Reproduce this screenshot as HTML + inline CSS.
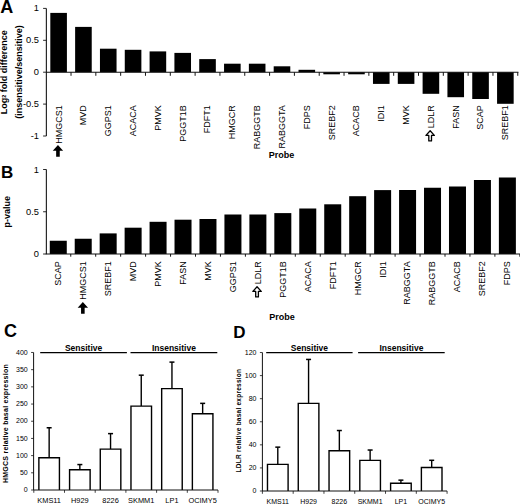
<!DOCTYPE html><html><head><meta charset="utf-8"><style>html,body{margin:0;padding:0;background:#fff;}svg{display:block;}text{font-family:"Liberation Sans", sans-serif;fill:#000;}</style></head><body>
<svg width="520" height="504" viewBox="0 0 520 504">
<text x="0.3" y="12.5" font-size="18" font-weight="bold">A</text>
<text x="1" y="178.4" font-size="17" font-weight="bold">B</text>
<text x="4.1" y="337.3" font-size="18" font-weight="bold">C</text>
<text x="233.2" y="337.6" font-size="17" font-weight="bold">D</text>
<rect x="50.31" y="12.9" width="16.6" height="59.3" fill="#000"/>
<rect x="75.13" y="26.9" width="16.6" height="45.3" fill="#000"/>
<rect x="99.95" y="48.7" width="16.6" height="23.5" fill="#000"/>
<rect x="124.77" y="49.8" width="16.6" height="22.4" fill="#000"/>
<rect x="149.59" y="51.4" width="16.6" height="20.8" fill="#000"/>
<rect x="174.41" y="52.9" width="16.6" height="19.3" fill="#000"/>
<rect x="199.23" y="59.1" width="16.6" height="13.1" fill="#000"/>
<rect x="224.05" y="63.7" width="16.6" height="8.5" fill="#000"/>
<rect x="248.87" y="63.7" width="16.6" height="8.5" fill="#000"/>
<rect x="273.69" y="66.3" width="16.6" height="5.9" fill="#000"/>
<rect x="298.51" y="69.8" width="16.6" height="2.4" fill="#000"/>
<rect x="323.33" y="72.2" width="16.6" height="2.1" fill="#000"/>
<rect x="348.15" y="72.2" width="16.6" height="2.1" fill="#000"/>
<rect x="372.97" y="72.2" width="16.6" height="11.7" fill="#000"/>
<rect x="397.79" y="72.2" width="16.6" height="11.7" fill="#000"/>
<rect x="422.61" y="72.2" width="16.6" height="21.6" fill="#000"/>
<rect x="447.43" y="72.2" width="16.6" height="25" fill="#000"/>
<rect x="472.25" y="72.2" width="16.6" height="26.8" fill="#000"/>
<rect x="497.07" y="72.2" width="16.6" height="31.6" fill="#000"/>
<line x1="46.4" y1="8.4" x2="46.4" y2="136" stroke="#2a2a2a" stroke-width="1.2"/>
<line x1="46.2" y1="72.2" x2="518.4" y2="72.2" stroke="#111" stroke-width="1.1"/>
<line x1="71.02" y1="72.2" x2="71.02" y2="75.8" stroke="#111" stroke-width="1"/>
<line x1="95.84" y1="72.2" x2="95.84" y2="75.8" stroke="#111" stroke-width="1"/>
<line x1="120.66" y1="72.2" x2="120.66" y2="75.8" stroke="#111" stroke-width="1"/>
<line x1="145.48" y1="72.2" x2="145.48" y2="75.8" stroke="#111" stroke-width="1"/>
<line x1="170.3" y1="72.2" x2="170.3" y2="75.8" stroke="#111" stroke-width="1"/>
<line x1="195.12" y1="72.2" x2="195.12" y2="75.8" stroke="#111" stroke-width="1"/>
<line x1="219.94" y1="72.2" x2="219.94" y2="75.8" stroke="#111" stroke-width="1"/>
<line x1="244.76" y1="72.2" x2="244.76" y2="75.8" stroke="#111" stroke-width="1"/>
<line x1="269.58" y1="72.2" x2="269.58" y2="75.8" stroke="#111" stroke-width="1"/>
<line x1="294.4" y1="72.2" x2="294.4" y2="75.8" stroke="#111" stroke-width="1"/>
<line x1="319.22" y1="72.2" x2="319.22" y2="75.8" stroke="#111" stroke-width="1"/>
<line x1="344.04" y1="72.2" x2="344.04" y2="75.8" stroke="#111" stroke-width="1"/>
<line x1="368.86" y1="72.2" x2="368.86" y2="75.8" stroke="#111" stroke-width="1"/>
<line x1="393.68" y1="72.2" x2="393.68" y2="75.8" stroke="#111" stroke-width="1"/>
<line x1="418.5" y1="72.2" x2="418.5" y2="75.8" stroke="#111" stroke-width="1"/>
<line x1="443.32" y1="72.2" x2="443.32" y2="75.8" stroke="#111" stroke-width="1"/>
<line x1="468.14" y1="72.2" x2="468.14" y2="75.8" stroke="#111" stroke-width="1"/>
<line x1="492.96" y1="72.2" x2="492.96" y2="75.8" stroke="#111" stroke-width="1"/>
<line x1="517.78" y1="72.2" x2="517.78" y2="75.8" stroke="#111" stroke-width="1"/>
<line x1="43.1" y1="8.4" x2="46.4" y2="8.4" stroke="#111" stroke-width="0.9"/>
<text x="39" y="11.4" text-anchor="end" font-size="9.3">1</text>
<line x1="43.1" y1="40.3" x2="46.4" y2="40.3" stroke="#111" stroke-width="0.9"/>
<text x="39" y="43.3" text-anchor="end" font-size="9.3">0.5</text>
<line x1="43.1" y1="72.2" x2="46.4" y2="72.2" stroke="#111" stroke-width="0.9"/>
<text x="39" y="75.2" text-anchor="end" font-size="9.3">0</text>
<line x1="43.1" y1="104.1" x2="46.4" y2="104.1" stroke="#111" stroke-width="0.9"/>
<text x="39" y="107.1" text-anchor="end" font-size="9.3">-0.5</text>
<line x1="43.1" y1="136" x2="46.4" y2="136" stroke="#111" stroke-width="0.9"/>
<text x="39" y="139" text-anchor="end" font-size="9.3">-1</text>
<text transform="translate(61.51,105.2) rotate(-90)" text-anchor="end" font-size="9">HMGCS1</text>
<text transform="translate(86.33,105.2) rotate(-90)" text-anchor="end" font-size="9">MVD</text>
<text transform="translate(111.15,105.2) rotate(-90)" text-anchor="end" font-size="9">GGPS1</text>
<text transform="translate(135.97,105.2) rotate(-90)" text-anchor="end" font-size="9">ACACA</text>
<text transform="translate(160.79,105.2) rotate(-90)" text-anchor="end" font-size="9">PMVK</text>
<text transform="translate(185.61,105.2) rotate(-90)" text-anchor="end" font-size="9">PGGT1B</text>
<text transform="translate(210.43,105.2) rotate(-90)" text-anchor="end" font-size="9">FDFT1</text>
<text transform="translate(235.25,105.2) rotate(-90)" text-anchor="end" font-size="9">HMGCR</text>
<text transform="translate(260.07,105.2) rotate(-90)" text-anchor="end" font-size="9">RABGGTB</text>
<text transform="translate(284.89,105.2) rotate(-90)" text-anchor="end" font-size="9">RABGGTA</text>
<text transform="translate(309.71,105.2) rotate(-90)" text-anchor="end" font-size="9">FDPS</text>
<text transform="translate(334.53,105.2) rotate(-90)" text-anchor="end" font-size="9">SREBF2</text>
<text transform="translate(359.35,105.2) rotate(-90)" text-anchor="end" font-size="9">ACACB</text>
<text transform="translate(384.17,105.2) rotate(-90)" text-anchor="end" font-size="9">IDI1</text>
<text transform="translate(408.99,105.2) rotate(-90)" text-anchor="end" font-size="9">MVK</text>
<text transform="translate(433.81,105.2) rotate(-90)" text-anchor="end" font-size="9">LDLR</text>
<text transform="translate(458.63,105.2) rotate(-90)" text-anchor="end" font-size="9">FASN</text>
<text transform="translate(483.45,105.2) rotate(-90)" text-anchor="end" font-size="9">SCAP</text>
<text transform="translate(508.27,105.2) rotate(-90)" text-anchor="end" font-size="9">SREBF1</text>
<text x="281.5" y="158" text-anchor="middle" font-size="9" font-weight="bold">Probe</text>
<text transform="translate(7.1,72.3) rotate(-90)" text-anchor="middle" font-size="9" font-weight="bold">Log<tspan font-size="5.5" dy="-1.5">2</tspan><tspan dy="1.5"> fold difference</tspan></text>
<text transform="translate(21.8,72) rotate(-90)" text-anchor="middle" font-size="9" font-weight="bold">(insensitive/sensitive)</text>
<polygon points="57.95,145.1 63.15,150.7 59.75,150.7 59.75,156.8 56.15,156.8 56.15,150.7 52.75,150.7" fill="#000"/>
<polygon points="430.15,130.8 434.35,135.4 431.5,135.4 431.5,140.9 428.8,140.9 428.8,135.4 425.95,135.4" fill="#fff" stroke="#000" stroke-width="1.3" stroke-linejoin="round"/>
<rect x="49.77" y="240.75" width="17" height="13.25" fill="#000"/>
<rect x="74.72" y="238.75" width="17" height="15.25" fill="#000"/>
<rect x="99.67" y="233.4" width="17" height="20.6" fill="#000"/>
<rect x="124.62" y="227.7" width="17" height="26.3" fill="#000"/>
<rect x="149.57" y="221.8" width="17" height="32.2" fill="#000"/>
<rect x="174.52" y="219.7" width="17" height="34.3" fill="#000"/>
<rect x="199.47" y="219" width="17" height="35" fill="#000"/>
<rect x="224.43" y="214.5" width="17" height="39.5" fill="#000"/>
<rect x="249.38" y="214.5" width="17" height="39.5" fill="#000"/>
<rect x="274.32" y="213.1" width="17" height="40.9" fill="#000"/>
<rect x="299.27" y="208.5" width="17" height="45.5" fill="#000"/>
<rect x="324.23" y="204.3" width="17" height="49.7" fill="#000"/>
<rect x="349.18" y="196.2" width="17" height="57.8" fill="#000"/>
<rect x="374.12" y="190.1" width="17" height="63.9" fill="#000"/>
<rect x="399.07" y="190" width="17" height="64" fill="#000"/>
<rect x="424.02" y="187.75" width="17" height="66.25" fill="#000"/>
<rect x="448.98" y="186.5" width="17" height="67.5" fill="#000"/>
<rect x="473.93" y="180" width="17" height="74" fill="#000"/>
<rect x="498.88" y="177.5" width="17" height="76.5" fill="#000"/>
<line x1="46.4" y1="169.5" x2="46.4" y2="254" stroke="#2a2a2a" stroke-width="1.2"/>
<line x1="45.8" y1="254" x2="520" y2="254" stroke="#111" stroke-width="1.1"/>
<line x1="70.75" y1="254" x2="70.75" y2="256.7" stroke="#111" stroke-width="1"/>
<line x1="95.7" y1="254" x2="95.7" y2="256.7" stroke="#111" stroke-width="1"/>
<line x1="120.65" y1="254" x2="120.65" y2="256.7" stroke="#111" stroke-width="1"/>
<line x1="145.6" y1="254" x2="145.6" y2="256.7" stroke="#111" stroke-width="1"/>
<line x1="170.55" y1="254" x2="170.55" y2="256.7" stroke="#111" stroke-width="1"/>
<line x1="195.5" y1="254" x2="195.5" y2="256.7" stroke="#111" stroke-width="1"/>
<line x1="220.45" y1="254" x2="220.45" y2="256.7" stroke="#111" stroke-width="1"/>
<line x1="245.4" y1="254" x2="245.4" y2="256.7" stroke="#111" stroke-width="1"/>
<line x1="270.35" y1="254" x2="270.35" y2="256.7" stroke="#111" stroke-width="1"/>
<line x1="295.3" y1="254" x2="295.3" y2="256.7" stroke="#111" stroke-width="1"/>
<line x1="320.25" y1="254" x2="320.25" y2="256.7" stroke="#111" stroke-width="1"/>
<line x1="345.2" y1="254" x2="345.2" y2="256.7" stroke="#111" stroke-width="1"/>
<line x1="370.15" y1="254" x2="370.15" y2="256.7" stroke="#111" stroke-width="1"/>
<line x1="395.1" y1="254" x2="395.1" y2="256.7" stroke="#111" stroke-width="1"/>
<line x1="420.05" y1="254" x2="420.05" y2="256.7" stroke="#111" stroke-width="1"/>
<line x1="445" y1="254" x2="445" y2="256.7" stroke="#111" stroke-width="1"/>
<line x1="469.95" y1="254" x2="469.95" y2="256.7" stroke="#111" stroke-width="1"/>
<line x1="494.9" y1="254" x2="494.9" y2="256.7" stroke="#111" stroke-width="1"/>
<line x1="519.85" y1="254" x2="519.85" y2="256.7" stroke="#111" stroke-width="1"/>
<line x1="43.1" y1="169.5" x2="46.4" y2="169.5" stroke="#111" stroke-width="0.9"/>
<text x="39" y="172.5" text-anchor="end" font-size="9.3">1</text>
<line x1="43.1" y1="211.75" x2="46.4" y2="211.75" stroke="#111" stroke-width="0.9"/>
<text x="39" y="214.75" text-anchor="end" font-size="9.3">0.5</text>
<line x1="43.1" y1="254" x2="46.4" y2="254" stroke="#111" stroke-width="0.9"/>
<text x="39" y="257" text-anchor="end" font-size="9.3">0</text>
<text transform="translate(61.17,261.3) rotate(-90)" text-anchor="end" font-size="9">SCAP</text>
<text transform="translate(86.12,261.3) rotate(-90)" text-anchor="end" font-size="9">HMGCS1</text>
<text transform="translate(111.08,261.3) rotate(-90)" text-anchor="end" font-size="9">SREBF1</text>
<text transform="translate(136.03,261.3) rotate(-90)" text-anchor="end" font-size="9">MVD</text>
<text transform="translate(160.97,261.3) rotate(-90)" text-anchor="end" font-size="9">PMVK</text>
<text transform="translate(185.92,261.3) rotate(-90)" text-anchor="end" font-size="9">FASN</text>
<text transform="translate(210.87,261.3) rotate(-90)" text-anchor="end" font-size="9">MVK</text>
<text transform="translate(235.83,261.3) rotate(-90)" text-anchor="end" font-size="9">GGPS1</text>
<text transform="translate(260.77,261.3) rotate(-90)" text-anchor="end" font-size="9">LDLR</text>
<text transform="translate(285.72,261.3) rotate(-90)" text-anchor="end" font-size="9">PGGT1B</text>
<text transform="translate(310.67,261.3) rotate(-90)" text-anchor="end" font-size="9">ACACA</text>
<text transform="translate(335.62,261.3) rotate(-90)" text-anchor="end" font-size="9">FDFT1</text>
<text transform="translate(360.57,261.3) rotate(-90)" text-anchor="end" font-size="9">HMGCR</text>
<text transform="translate(385.52,261.3) rotate(-90)" text-anchor="end" font-size="9">IDI1</text>
<text transform="translate(410.47,261.3) rotate(-90)" text-anchor="end" font-size="9">RABGGTA</text>
<text transform="translate(435.42,261.3) rotate(-90)" text-anchor="end" font-size="9">RABGGTB</text>
<text transform="translate(460.38,261.3) rotate(-90)" text-anchor="end" font-size="9">ACACB</text>
<text transform="translate(485.32,261.3) rotate(-90)" text-anchor="end" font-size="9">SREBF2</text>
<text transform="translate(510.27,261.3) rotate(-90)" text-anchor="end" font-size="9">FDPS</text>
<text x="282" y="320.2" text-anchor="middle" font-size="9" font-weight="bold">Probe</text>
<text transform="translate(9.8,211.7) rotate(-90)" text-anchor="middle" font-size="9" font-weight="bold">p-value</text>
<polygon points="82.85,302.1 88.05,307.7 84.65,307.7 84.65,313.8 81.05,313.8 81.05,307.7 77.65,307.7" fill="#000"/>
<polygon points="257.05,286.8 261.25,291.4 258.4,291.4 258.4,296.9 255.7,296.9 255.7,291.4 252.85,291.4" fill="#fff" stroke="#000" stroke-width="1.3" stroke-linejoin="round"/>
<line x1="49.15" y1="457.68" x2="49.15" y2="427.77" stroke="#000" stroke-width="1.4"/>
<line x1="46.65" y1="427.77" x2="51.65" y2="427.77" stroke="#000" stroke-width="1.5"/>
<path d="M38.87 490V457.68H59.43V490" fill="#fff" stroke="#000" stroke-width="1.4"/>
<line x1="79.85" y1="469.72" x2="79.85" y2="464.56" stroke="#000" stroke-width="1.4"/>
<line x1="77.35" y1="464.56" x2="82.35" y2="464.56" stroke="#000" stroke-width="1.5"/>
<path d="M69.57 490V469.72H90.13V490" fill="#fff" stroke="#000" stroke-width="1.4"/>
<line x1="110.55" y1="449.09" x2="110.55" y2="433.62" stroke="#000" stroke-width="1.4"/>
<line x1="108.05" y1="433.62" x2="113.05" y2="433.62" stroke="#000" stroke-width="1.5"/>
<path d="M100.27 490V449.09H120.83V490" fill="#fff" stroke="#000" stroke-width="1.4"/>
<line x1="141.25" y1="406.11" x2="141.25" y2="375.17" stroke="#000" stroke-width="1.4"/>
<line x1="138.75" y1="375.17" x2="143.75" y2="375.17" stroke="#000" stroke-width="1.5"/>
<path d="M130.97 490V406.11H151.53V490" fill="#fff" stroke="#000" stroke-width="1.4"/>
<line x1="171.95" y1="388.58" x2="171.95" y2="362.11" stroke="#000" stroke-width="1.4"/>
<line x1="169.45" y1="362.11" x2="174.45" y2="362.11" stroke="#000" stroke-width="1.5"/>
<path d="M161.67 490V388.58H182.23V490" fill="#fff" stroke="#000" stroke-width="1.4"/>
<line x1="202.65" y1="413.68" x2="202.65" y2="403.36" stroke="#000" stroke-width="1.4"/>
<line x1="200.15" y1="403.36" x2="205.15" y2="403.36" stroke="#000" stroke-width="1.5"/>
<path d="M192.37 490V413.68H212.93V490" fill="#fff" stroke="#000" stroke-width="1.4"/>
<line x1="33.6" y1="352.5" x2="33.6" y2="490" stroke="#111" stroke-width="1"/>
<line x1="33.6" y1="490" x2="218" y2="490" stroke="#111" stroke-width="1"/>
<line x1="33.8" y1="490" x2="33.8" y2="492.8" stroke="#111" stroke-width="0.8"/>
<line x1="64.5" y1="490" x2="64.5" y2="492.8" stroke="#111" stroke-width="0.8"/>
<line x1="95.2" y1="490" x2="95.2" y2="492.8" stroke="#111" stroke-width="0.8"/>
<line x1="125.9" y1="490" x2="125.9" y2="492.8" stroke="#111" stroke-width="0.8"/>
<line x1="156.6" y1="490" x2="156.6" y2="492.8" stroke="#111" stroke-width="0.8"/>
<line x1="187.3" y1="490" x2="187.3" y2="492.8" stroke="#111" stroke-width="0.8"/>
<line x1="218" y1="490" x2="218" y2="492.8" stroke="#111" stroke-width="0.8"/>
<line x1="31.1" y1="490" x2="33.6" y2="490" stroke="#111" stroke-width="0.8"/>
<text x="27.7" y="492.2" text-anchor="end" font-size="7">0</text>
<line x1="31.1" y1="472.81" x2="33.6" y2="472.81" stroke="#111" stroke-width="0.8"/>
<text x="27.7" y="475.01" text-anchor="end" font-size="7">50</text>
<line x1="31.1" y1="455.62" x2="33.6" y2="455.62" stroke="#111" stroke-width="0.8"/>
<text x="27.7" y="457.82" text-anchor="end" font-size="7">100</text>
<line x1="31.1" y1="438.43" x2="33.6" y2="438.43" stroke="#111" stroke-width="0.8"/>
<text x="27.7" y="440.63" text-anchor="end" font-size="7">150</text>
<line x1="31.1" y1="421.24" x2="33.6" y2="421.24" stroke="#111" stroke-width="0.8"/>
<text x="27.7" y="423.44" text-anchor="end" font-size="7">200</text>
<line x1="31.1" y1="404.05" x2="33.6" y2="404.05" stroke="#111" stroke-width="0.8"/>
<text x="27.7" y="406.25" text-anchor="end" font-size="7">250</text>
<line x1="31.1" y1="386.86" x2="33.6" y2="386.86" stroke="#111" stroke-width="0.8"/>
<text x="27.7" y="389.06" text-anchor="end" font-size="7">300</text>
<line x1="31.1" y1="369.67" x2="33.6" y2="369.67" stroke="#111" stroke-width="0.8"/>
<text x="27.7" y="371.87" text-anchor="end" font-size="7">350</text>
<line x1="31.1" y1="352.48" x2="33.6" y2="352.48" stroke="#111" stroke-width="0.8"/>
<text x="27.7" y="354.68" text-anchor="end" font-size="7">400</text>
<text x="49.15" y="502.7" text-anchor="middle" font-size="7.4">KMS11</text>
<text x="79.85" y="502.7" text-anchor="middle" font-size="7.4">H929</text>
<text x="110.55" y="502.7" text-anchor="middle" font-size="7.4">8226</text>
<text x="141.25" y="502.7" text-anchor="middle" font-size="7.4">SKMM1</text>
<text x="171.95" y="502.7" text-anchor="middle" font-size="7.4">LP1</text>
<text x="202.65" y="502.7" text-anchor="middle" font-size="7.4">OCIMY5</text>
<line x1="40.2" y1="352.6" x2="126.9" y2="352.6" stroke="#000" stroke-width="1.4"/>
<text x="83.55" y="350.5" text-anchor="middle" font-size="8.5" font-weight="bold">Sensitive</text>
<line x1="130.5" y1="352.6" x2="217.3" y2="352.6" stroke="#000" stroke-width="1.4"/>
<text x="173.9" y="350.5" text-anchor="middle" font-size="8.5" font-weight="bold">Insensitive</text>
<text transform="translate(8,423.5) rotate(-90)" text-anchor="middle" font-size="7.0" letter-spacing="0.25" font-weight="bold">HMGCS relative basal expression</text>
<line x1="277.79" y1="464.34" x2="277.79" y2="447.15" stroke="#000" stroke-width="1.4"/>
<line x1="275.29" y1="447.15" x2="280.29" y2="447.15" stroke="#000" stroke-width="1.5"/>
<path d="M267.48 491V464.34H288.1V491" fill="#fff" stroke="#000" stroke-width="1.4"/>
<line x1="308.57" y1="403.41" x2="308.57" y2="359.44" stroke="#000" stroke-width="1.4"/>
<line x1="306.07" y1="359.44" x2="311.07" y2="359.44" stroke="#000" stroke-width="1.5"/>
<path d="M298.26 491V403.41H318.88V491" fill="#fff" stroke="#000" stroke-width="1.4"/>
<line x1="339.35" y1="450.73" x2="339.35" y2="430.53" stroke="#000" stroke-width="1.4"/>
<line x1="336.85" y1="430.53" x2="341.85" y2="430.53" stroke="#000" stroke-width="1.5"/>
<path d="M329.04 491V450.73H349.66V491" fill="#fff" stroke="#000" stroke-width="1.4"/>
<line x1="370.13" y1="460.42" x2="370.13" y2="450.03" stroke="#000" stroke-width="1.4"/>
<line x1="367.63" y1="450.03" x2="372.63" y2="450.03" stroke="#000" stroke-width="1.5"/>
<path d="M359.82 491V460.42H380.44V491" fill="#fff" stroke="#000" stroke-width="1.4"/>
<line x1="400.91" y1="483.27" x2="400.91" y2="480.15" stroke="#000" stroke-width="1.4"/>
<line x1="398.41" y1="480.15" x2="403.41" y2="480.15" stroke="#000" stroke-width="1.5"/>
<path d="M390.6 491V483.27H411.22V491" fill="#fff" stroke="#000" stroke-width="1.4"/>
<line x1="431.69" y1="467.57" x2="431.69" y2="460.3" stroke="#000" stroke-width="1.4"/>
<line x1="429.19" y1="460.3" x2="434.19" y2="460.3" stroke="#000" stroke-width="1.5"/>
<path d="M421.38 491V467.57H442V491" fill="#fff" stroke="#000" stroke-width="1.4"/>
<line x1="262.4" y1="352.5" x2="262.4" y2="491" stroke="#111" stroke-width="1"/>
<line x1="262.4" y1="491" x2="447.08" y2="491" stroke="#111" stroke-width="1"/>
<line x1="262.4" y1="491" x2="262.4" y2="493.8" stroke="#111" stroke-width="0.8"/>
<line x1="293.18" y1="491" x2="293.18" y2="493.8" stroke="#111" stroke-width="0.8"/>
<line x1="323.96" y1="491" x2="323.96" y2="493.8" stroke="#111" stroke-width="0.8"/>
<line x1="354.74" y1="491" x2="354.74" y2="493.8" stroke="#111" stroke-width="0.8"/>
<line x1="385.52" y1="491" x2="385.52" y2="493.8" stroke="#111" stroke-width="0.8"/>
<line x1="416.3" y1="491" x2="416.3" y2="493.8" stroke="#111" stroke-width="0.8"/>
<line x1="447.08" y1="491" x2="447.08" y2="493.8" stroke="#111" stroke-width="0.8"/>
<line x1="259.9" y1="491" x2="262.4" y2="491" stroke="#111" stroke-width="0.8"/>
<text x="256.5" y="493.2" text-anchor="end" font-size="7">0</text>
<line x1="259.9" y1="467.92" x2="262.4" y2="467.92" stroke="#111" stroke-width="0.8"/>
<text x="256.5" y="470.12" text-anchor="end" font-size="7">20</text>
<line x1="259.9" y1="444.84" x2="262.4" y2="444.84" stroke="#111" stroke-width="0.8"/>
<text x="256.5" y="447.04" text-anchor="end" font-size="7">40</text>
<line x1="259.9" y1="421.76" x2="262.4" y2="421.76" stroke="#111" stroke-width="0.8"/>
<text x="256.5" y="423.96" text-anchor="end" font-size="7">60</text>
<line x1="259.9" y1="398.68" x2="262.4" y2="398.68" stroke="#111" stroke-width="0.8"/>
<text x="256.5" y="400.88" text-anchor="end" font-size="7">80</text>
<line x1="259.9" y1="375.6" x2="262.4" y2="375.6" stroke="#111" stroke-width="0.8"/>
<text x="256.5" y="377.8" text-anchor="end" font-size="7">100</text>
<line x1="259.9" y1="352.52" x2="262.4" y2="352.52" stroke="#111" stroke-width="0.8"/>
<text x="256.5" y="354.72" text-anchor="end" font-size="7">120</text>
<text x="277.79" y="503.7" text-anchor="middle" font-size="7.0">KMS11</text>
<text x="308.57" y="503.7" text-anchor="middle" font-size="7.0">H929</text>
<text x="339.35" y="503.7" text-anchor="middle" font-size="7.0">8226</text>
<text x="370.13" y="503.7" text-anchor="middle" font-size="7.0">SKMM1</text>
<text x="400.91" y="503.7" text-anchor="middle" font-size="7.0">LP1</text>
<text x="431.69" y="503.7" text-anchor="middle" font-size="7.0">OCIMY5</text>
<line x1="266.2" y1="352.6" x2="352.6" y2="352.6" stroke="#000" stroke-width="1.4"/>
<text x="309.4" y="350.5" text-anchor="middle" font-size="8.5" font-weight="bold">Sensitive</text>
<line x1="358.1" y1="352.6" x2="444.7" y2="352.6" stroke="#000" stroke-width="1.4"/>
<text x="401.4" y="350.5" text-anchor="middle" font-size="8.5" font-weight="bold">Insensitive</text>
<text transform="translate(240.8,420.6) rotate(-90)" text-anchor="middle" font-size="6.5" letter-spacing="0.24" font-weight="bold">LDLR relative basal expression</text>
</svg></body></html>
